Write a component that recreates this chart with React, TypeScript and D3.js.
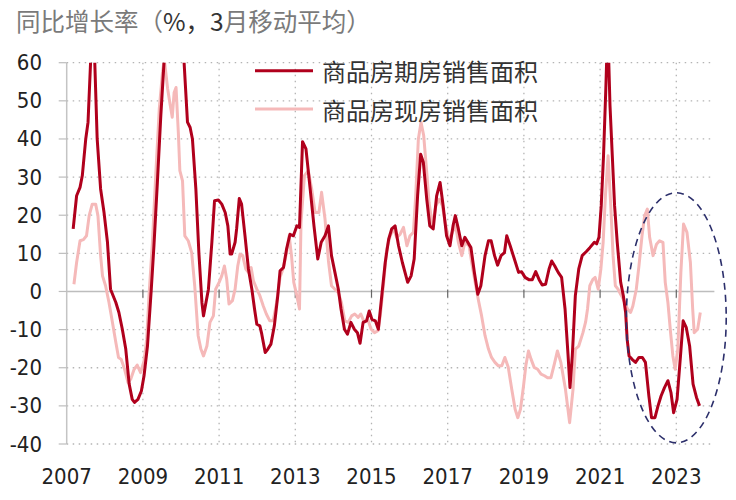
import React from "react";
import * as d3 from "d3";

// ---- data (decimal year, YoY % 3-month moving average) ----
const futuresYears = [
  2007.17, 2007.26, 2007.35, 2007.41, 2007.5, 2007.56, 2007.69, 2007.8, 2007.89, 2007.98,
  2008.07, 2008.15, 2008.29, 2008.37, 2008.46, 2008.55, 2008.64, 2008.72, 2008.78, 2008.87,
  2008.96, 2009.03, 2009.12, 2009.22, 2009.29, 2009.38, 2009.47, 2009.56, 2009.8, 2010.07,
  2010.17, 2010.24, 2010.3, 2010.39, 2010.47, 2010.55, 2010.59, 2010.72, 2010.81, 2010.88,
  2010.98, 2011.07, 2011.16, 2011.23, 2011.29, 2011.33, 2011.42, 2011.46, 2011.53, 2011.59,
  2011.68, 2011.77, 2011.86, 2011.93, 2011.99, 2012.07, 2012.12, 2012.21, 2012.28, 2012.36,
  2012.45, 2012.54, 2012.6, 2012.69, 2012.77, 2012.86, 2012.95, 2013.04, 2013.11, 2013.19,
  2013.28, 2013.39, 2013.49, 2013.59, 2013.68, 2013.78, 2013.87, 2013.95, 2014.04, 2014.13,
  2014.2, 2014.29, 2014.37, 2014.46, 2014.55, 2014.63, 2014.7, 2014.78, 2014.87, 2014.94,
  2015.01, 2015.1, 2015.18, 2015.27, 2015.36, 2015.45, 2015.53, 2015.62, 2015.71, 2015.81,
  2015.95, 2016.04, 2016.12, 2016.21, 2016.29, 2016.36, 2016.45, 2016.53, 2016.62, 2016.71,
  2016.8, 2016.88, 2016.97, 2017.06, 2017.14, 2017.2, 2017.28, 2017.37, 2017.45, 2017.61,
  2017.7, 2017.79, 2017.87, 2017.98, 2018.07, 2018.14, 2018.23, 2018.31, 2018.4, 2018.49,
  2018.55, 2018.64, 2018.75, 2018.86, 2018.94, 2019.03, 2019.13, 2019.22, 2019.31, 2019.4,
  2019.48, 2019.57, 2019.66, 2019.73, 2019.81, 2019.9, 2019.99, 2020.08, 2020.16, 2020.21,
  2020.27, 2020.35, 2020.44, 2020.53, 2020.64, 2020.73, 2020.85, 2020.91, 2020.97, 2021.03,
  2021.09, 2021.15, 2021.2, 2021.26, 2021.32, 2021.38, 2021.45, 2021.54, 2021.61, 2021.67,
  2021.71, 2021.76, 2021.84, 2021.93, 2022.02, 2022.11, 2022.19, 2022.28, 2022.35, 2022.44,
  2022.52, 2022.6, 2022.69, 2022.78, 2022.86, 2022.93, 2023.02, 2023.11, 2023.18, 2023.26,
  2023.35, 2023.44, 2023.53, 2023.61,
];
const futuresValues = [
  16.4, 25.1, 27.3, 30.4, 40, 44.4, 75, 40, 26.9, 20.7,
  12.9, 0.6, -2.9, -5.5, -9.9, -15.1, -24.3, -28.3, -29.1, -28.3,
  -26.1, -22.1, -14.3, 0.6, 12, 28.6, 46.1, 61, 90, 62,
  44.4, 43, 40, 26.9, 10, -3, -6.4, 0.6, 12.9, 23.8,
  24, 22.9, 20.7, 17.2, 9.8, 9.8, 12.9, 16.4, 24.4, 22.9,
  14.6, 5.9, 0.6, -4.6, -8.6, -9, -11.2, -16, -15.1, -13.8,
  -9, -1.1, 5.4, 6.3, 11.1, 15, 14.6, 17.2, 16.8, 39.3,
  37.4, 26.9, 17.2, 8.5, 12.9, 14.6, 17.2, 9.4, 5, 0.6,
  -4.6, -9.9, -11.2, -8.1, -9.9, -10.8, -13.6, -8.1, -7.7, -5.1,
  -7.3, -7.7, -9.9, -1.1, 7.6, 13.7, 16.4, 17.2, 12, 7.6,
  2.4, 4.1, 8.5, 25.1, 36, 33.9, 24.2, 17.2, 16.4, 25.1,
  28.6, 22.5, 14.6, 12, 17.2, 19.9, 16.4, 12, 14.2, 11.5,
  5, -0.7, 1.5, 9.4, 13.3, 13.3, 9.4, 6.9, 9.4, 10.2,
  14.6, 12, 8.5, 5, 5.2, 3.7, 3.1, 3.1, 5.2, 3.1,
  1.7, 1.9, 5.9, 8, 6.7, 5, 3.7, -4.6, -16.9, -25.2,
  -16.9, -1.1, 5.9, 9.4, 10.5, 11.5, 12.9, 12.5, 14.2, 22.5,
  35.6, 53.1, 70, 48.7, 35.6, 22.5, 12.9, 2.4, -1.1, -5.5,
  -12.5, -16.9, -17.8, -18.6, -17.3, -17.3, -18.6, -27.4, -33.1, -33.1,
  -30, -27.4, -25.2, -23.4, -26.5, -31.8, -28.3, -16.9, -7.7, -9.4,
  -14.3, -24.3, -27.8, -30,
];

const spotYears = [
  2007.19, 2007.26, 2007.35, 2007.44, 2007.52, 2007.59, 2007.67, 2007.76, 2007.82, 2007.89,
  2007.94, 2008.02, 2008.11, 2008.2, 2008.29, 2008.36, 2008.43, 2008.52, 2008.61, 2008.68,
  2008.77, 2008.85, 2008.94, 2009.03, 2009.1, 2009.16, 2009.25, 2009.34, 2009.43, 2009.51,
  2009.56, 2009.65, 2009.72, 2009.77, 2009.82, 2009.87, 2009.93, 2009.97, 2010.04, 2010.1,
  2010.19, 2010.28, 2010.36, 2010.45, 2010.52, 2010.59, 2010.68, 2010.76, 2010.85, 2010.91,
  2011.0, 2011.07, 2011.14, 2011.2, 2011.26, 2011.35, 2011.42, 2011.49, 2011.55, 2011.62,
  2011.7, 2011.77, 2011.84, 2011.9, 2011.99, 2012.07, 2012.16, 2012.24, 2012.33, 2012.42,
  2012.51, 2012.6, 2012.69, 2012.77, 2012.84, 2012.9, 2012.96, 2013.04, 2013.11, 2013.15,
  2013.24, 2013.34, 2013.43, 2013.52, 2013.62, 2013.69, 2013.78, 2013.87, 2013.95, 2014.04,
  2014.13, 2014.21, 2014.3, 2014.39, 2014.48, 2014.56, 2014.65, 2014.72, 2014.81, 2014.9,
  2014.99, 2015.08, 2015.17, 2015.23, 2015.32, 2015.4, 2015.49, 2015.58, 2015.66, 2015.75,
  2015.84, 2015.93, 2016.01, 2016.1, 2016.16, 2016.23, 2016.3, 2016.37, 2016.45, 2016.51,
  2016.6, 2016.69, 2016.78, 2016.86, 2016.95, 2017.04, 2017.12, 2017.21, 2017.28, 2017.37,
  2017.45, 2017.56, 2017.63, 2017.72, 2017.8, 2017.89, 2017.98, 2018.07, 2018.15, 2018.24,
  2018.33, 2018.42, 2018.5, 2018.59, 2018.68, 2018.77, 2018.84, 2018.91, 2018.99, 2019.05,
  2019.12, 2019.19, 2019.27, 2019.36, 2019.45, 2019.54, 2019.62, 2019.71, 2019.8, 2019.88,
  2019.97, 2020.09, 2020.2, 2020.29, 2020.35, 2020.44, 2020.55, 2020.62, 2020.67, 2020.73,
  2020.81, 2020.87, 2020.95, 2021.02, 2021.08, 2021.14, 2021.21, 2021.28, 2021.34, 2021.4,
  2021.47, 2021.56, 2021.65, 2021.72, 2021.8, 2021.86, 2021.95, 2022.02, 2022.1, 2022.17,
  2022.24, 2022.3, 2022.39, 2022.48, 2022.56, 2022.65, 2022.71, 2022.78, 2022.85, 2022.91,
  2022.97, 2023.04, 2023.12, 2023.19, 2023.28, 2023.37, 2023.43, 2023.47, 2023.56, 2023.63,
];
const spotValues = [
  1.9, 7.6, 13.3, 13.6, 14.6, 19.9, 22.9, 22.9, 19.9, 9.4,
  4.1, 1.5, -2.9, -8.1, -13.4, -17.3, -17.8, -20.4, -23.9, -23,
  -20.4, -19.3, -21.3, -18.2, -12.5, -1.1, 12.9, 31.2, 47.9, 57,
  61, 53.1, 48.7, 45.7, 52.2, 53.5, 41.7, 31.7, 29, 14.6,
  13.3, 10.2, 1.5, -11.6, -15, -16.9, -14.3, -8.1, -6.4, 0.6,
  2.4, 4.1, 6.7, 3.2, -3.3, -2.4, 0.6, 6.7, 9.8, 9.4,
  5.9, 5, 6.3, 2.8, 0.6, -1.1, -3.8, -5.9, -7.7, -7.7,
  -2.9, 3.7, 6.3, 10.2, 14.6, 9.4, 2.4, -1.1, -4.6, 18.1,
  30.4, 31.7, 26.9, 20.7, 20.7, 26, 19, 8, 1.5, 0.6,
  -0.3, -2.9, -7.7, -8.1, -6.4, -5.9, -6.8, -5.9, -8.1, -7.3,
  -9.9, -10.8, -10.3, -6.4, 2.4, 11.1, 14.6, 16.4, 14.2, 15,
  16.8, 12, 14.6, 15.5, 25.1, 40, 44.4, 40.9, 31.2, 23.4,
  17.2, 22.5, 24.2, 22.5, 17.2, 13.3, 15.5, 17.2, 12.9, 9.4,
  12.9, 12, 7.6, 2.4, -2, -6.4, -11.6, -15.1, -17.3, -18.6,
  -19.5, -19.5, -17.3, -19.9, -25.6, -30.9, -33.1, -30.9, -24.8, -19.5,
  -15.6, -17.8, -19.9, -20.4, -21.7, -22.1, -22.6, -22.6, -19, -15.6,
  -18.6, -25.6, -34.4, -25.6, -15.1, -14.3, -10.8, -8, -4.6, 1.5,
  3.2, 3.7, 0.6, 5.9, 12.9, 25.1, 35.6, 22.5, 9.4, 1.5,
  0.6, -1.1, -2.9, -4.6, -5.5, -3.8, 0.6, 6.7, 14.6, 19.9,
  21.6, 14.2, 9.4, 12.4, 13.3, 12.9, 2.4, -2.9, -10.8, -16.9,
  -20.4, -15.1, 5, 17.7, 15.5, 7.6, -4.6, -10.8, -9.9, -5.5,
];

const yTicks = [-40, -30, -20, -10, 0, 10, 20, 30, 40, 50, 60];
const xTickYears = [2007, 2009, 2011, 2013, 2015, 2017, 2019, 2021, 2023];
const seriesNames = ["商品房期房销售面积", "商品房现房销售面积"];
const titleParts = ["同比增长率（", "%，3", "月移动平均）"];
// highlighted region (ellipse) in data units: centre year/value, radii
const highlight = { year: 2023.0, value: -6.9, rYears: 1.31, rValue: 32.8 };

const W = 736;
const H = 500;
const DARK = "#B0001C";
const PINK = "#F5B9B9";

export default function App() {
  const x = d3.scaleLinear().domain([2007, 2024]).range([66.7, 714.4]);
  const y = d3.scaleLinear().domain([-40, 60]).range([444, 62.7]);

  const line = d3
    .line<[number, number]>()
    .x((d) => x(d[0]))
    .y((d) => y(d[1]));

  const futures: [number, number][] = futuresYears.map((t, i) => [t, futuresValues[i]]);
  const spot: [number, number][] = spotYears.map((t, i) => [t, spotValues[i]]);

  const x0 = x(2007);
  const x1 = x(2024);
  const yTop = y(60);
  const yBot = y(-40);
  const y0 = y(0);

  const ex = x(highlight.year);
  const ey = y(highlight.value);
  const erx = x(highlight.year + highlight.rYears) - ex;
  const ery = ey - y(highlight.value + highlight.rValue);

  const tickFont = "'DejaVu Sans', Verdana, sans-serif";
  const cjkFont = "'Noto Sans CJK SC', 'Noto Sans', sans-serif";

  return (
    <svg
      width={W}
      height={H}
      viewBox={`0 0 ${W} ${H}`}
      style={{ position: "absolute", left: 0, top: 0, display: "block", background: "#fff" }}
    >
      <defs>
        <clipPath id="plotClip">
          <rect x={x0} y={yTop} width={x1 - x0} height={yBot - yTop} />
        </clipPath>
      </defs>
      <rect x={0} y={0} width={W} height={H} fill="#fff" />

      {/* title */}
      <text x={16} y={20} dominantBaseline="central" fontFamily={cjkFont} fontSize={24.5}>
        <tspan fill="#7a7a7a">{titleParts[0]}</tspan>
        <tspan fill="#333">{titleParts[1]}</tspan>
        <tspan fill="#7a7a7a">{titleParts[2]}</tspan>
      </text>

      {/* horizontal dotted gridlines */}
      {yTicks
        .filter((v) => v !== 0)
        .map((v) => (
          <line
            key={"hg" + v}
            x1={x0}
            x2={x1}
            y1={y(v)}
            y2={y(v)}
            stroke="#b4b4b4"
            strokeWidth={1.3}
            strokeDasharray="1.5 4.5"
          />
        ))}
      {/* vertical dotted gridlines */}
      {xTickYears
        .filter((t) => t !== 2007)
        .map((t) => (
          <line
            key={"vg" + t}
            x1={x(t)}
            x2={x(t)}
            y1={yTop}
            y2={yBot}
            stroke="#b4b4b4"
            strokeWidth={1.3}
            strokeDasharray="1.5 4.5"
          />
        ))}

      {/* zero line */}
      <line x1={x0} x2={x1} y1={y0} y2={y0} stroke="#bdbdbd" strokeWidth={1.5} />
      {xTickYears
        .filter((t) => t !== 2007)
        .map((t) => (
          <line key={"xt" + t} x1={x(t)} x2={x(t)} y1={y0 - 2} y2={y0 + 6} stroke="#666" strokeWidth={1.2} />
        ))}

      {/* y axis */}
      <line x1={x0} x2={x0} y1={yTop} y2={yBot} stroke="#c4c4c4" strokeWidth={1.5} />
      {yTicks.map((v) => (
        <g key={"yt" + v}>
          <line x1={x0 - 8} x2={x0} y1={y(v)} y2={y(v)} stroke="#bdbdbd" strokeWidth={1.2} />
          <text
            x={42}
            y={y(v)}
            textAnchor="end"
            dominantBaseline="central"
            fontFamily={tickFont}
            fontStretch="condensed"
            fontSize={22}
            fill="#222"
          >
            {v}
          </text>
        </g>
      ))}

      {/* x labels */}
      {xTickYears.map((t) => (
        <text
          key={"xl" + t}
          x={x(t)}
          y={476}
          textAnchor="middle"
          dominantBaseline="central"
          fontFamily={tickFont}
          fontStretch="condensed"
          fontSize={22}
          fill="#222"
        >
          {t}
        </text>
      ))}

      {/* series */}
      <g clipPath="url(#plotClip)">
        <path d={line(spot) || ""} fill="none" stroke={PINK} strokeWidth={3} strokeLinejoin="round" />
        <path d={line(futures) || ""} fill="none" stroke={DARK} strokeWidth={3} strokeLinejoin="round" />
      </g>

      {/* legend */}
      {seriesNames.map((name, i) => {
        const ly = 70.7 + i * 38.3;
        return (
          <g key={name}>
            <line x1={255} x2={313} y1={ly} y2={ly} stroke={i === 0 ? DARK : PINK} strokeWidth={3} />
            <text x={322} y={ly} dominantBaseline="central" fontFamily={cjkFont} fontSize={24} fill="#333">
              {name}
            </text>
          </g>
        );
      })}

      {/* highlight ellipse */}
      <ellipse
        cx={ex}
        cy={ey}
        rx={erx}
        ry={ery}
        fill="none"
        stroke="#2C2F6B"
        strokeWidth={1.6}
        strokeDasharray="7 5"
      />
    </svg>
  );
}
